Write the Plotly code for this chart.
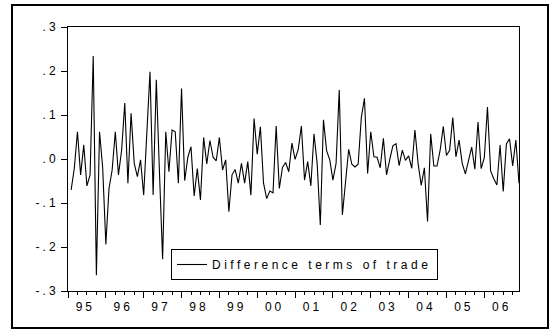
import plotly.graph_objects as go

# Month index: 0 = 1995M01; data run 1995M02 .. 2006M12
month_index = list(range(1, 144))
diff_tot = [
    -0.070, -0.021, 0.062, -0.036, 0.032, -0.061, -0.036, 0.234, -0.264, 0.062,
    -0.020, -0.194, -0.067, -0.025, 0.062, -0.036, 0.020, 0.127, -0.055, 0.104,
    -0.010, -0.040, -0.002, -0.082, 0.060, 0.198, -0.082, 0.180, -0.030, -0.228,
    0.062, -0.029, 0.066, 0.062, -0.055, 0.160, -0.049, 0.004, 0.028, -0.084,
    -0.022, -0.093, 0.049, -0.011, 0.042, 0.004, -0.004, 0.049, -0.025, -0.002,
    -0.120, -0.036, -0.024, -0.055, -0.010, -0.055, -0.006, -0.082, 0.092, 0.011,
    0.073, -0.055, -0.090, -0.073, -0.077, 0.075, -0.067, -0.019, -0.008, -0.029,
    0.036, -0.001, 0.022, 0.075, -0.048, -0.006, -0.061, 0.057, -0.010, -0.150,
    0.089, 0.019, -0.002, -0.048, -0.010, 0.157, -0.127, -0.055, 0.022, -0.012,
    -0.018, -0.012, 0.094, 0.138, -0.033, 0.062, 0.005, 0.004, -0.020, 0.047,
    -0.036, -0.002, 0.030, 0.035, -0.015, 0.020, -0.003, 0.007, -0.021, 0.066,
    -0.010, -0.060, -0.020, -0.142, 0.057, -0.016, -0.016, 0.020, 0.074, 0.008,
    0.020, 0.094, 0.005, 0.043, -0.010, -0.034, -0.002, 0.027, -0.023, 0.084,
    -0.022, 0.003, 0.118, -0.027, -0.045, -0.059, 0.032, -0.074, 0.034, 0.046,
    -0.016, 0.043, -0.055,
]
series_name = "Difference terms of trade"
year_labels = ["95", "96", "97", "98", "99", "00", "01", "02", "03", "04", "05", "06"]
y_tick_values = [0.3, 0.2, 0.1, 0.0, -0.1, -0.2, -0.3]
y_tick_labels = [".3", ".2", ".1", ".0", "-.1", "-.2", "-.3"]

year_starts = [12 * i for i in range(len(year_labels))]
year_centers = [12 * i + 5.5 for i in range(len(year_labels))]
quarter_ticks = [12 * i + q for i in range(len(year_labels)) for q in (3, 6, 9)]

FONT = "Liberation Sans, Arial, sans-serif"

def spaced(t, px=3):
    return f'<span style="letter-spacing:{px}px">{t}</span>'

fig = go.Figure()
fig.add_trace(go.Scatter(
    x=month_index, y=diff_tot, mode="lines",
    line=dict(color="black", width=1.1),
    name=spaced(series_name, 3.5),
))
# invisible trace to carry the year label axis
fig.add_trace(go.Scatter(x=[0, 143], y=[None, None], xaxis="x2",
                         showlegend=False, hoverinfo="skip"))

fig.update_layout(
    width=550, height=331,
    margin=dict(l=68, r=31, t=27, b=40),
    paper_bgcolor="white", plot_bgcolor="white",
    font=dict(family=FONT, size=12, color="black"),
    xaxis=dict(
        range=[0, 143], tickvals=year_starts, ticks="outside", ticklen=6,
        tickcolor="black", showticklabels=False, showgrid=False, zeroline=False,
        showline=True, mirror=True, linecolor="black", linewidth=1,
        minor=dict(tickvals=quarter_ticks, ticks="outside", ticklen=3,
                   tickcolor="black", showgrid=False),
    ),
    xaxis2=dict(
        range=[0, 143], overlaying="x", side="bottom", anchor="y",
        tickvals=year_centers, ticktext=[spaced(t) for t in year_labels],
        ticks="", showgrid=False, zeroline=False, showline=False,
        ticklabelstandoff=7, tickfont=dict(size=12),
    ),
    yaxis=dict(
        range=[-0.3, 0.3], tickvals=y_tick_values,
        ticktext=[spaced(t) for t in y_tick_labels],
        ticks="outside", ticklen=6, tickcolor="black", showgrid=False,
        zeroline=False, showline=True, mirror=True, linecolor="black",
        linewidth=1, tickfont=dict(size=12),
    ),
    showlegend=True,
    legend=dict(
        x=(171 - 68) / 451, y=(291 - 249) / 264, xanchor="left", yanchor="top",
        bordercolor="black", borderwidth=1, bgcolor="white",
        font=dict(family=FONT, size=12, color="black"),
    ),
    shapes=[dict(
        type="rect", xref="paper", yref="paper",
        x0=(12 - 68) / 451, x1=(548 - 68) / 451,
        y0=(291 - 328) / 264, y1=(291 - 5) / 264,
        line=dict(color="black", width=2), fillcolor="rgba(0,0,0,0)",
        layer="below",
    )],
)

fig.write_html("out.html")
